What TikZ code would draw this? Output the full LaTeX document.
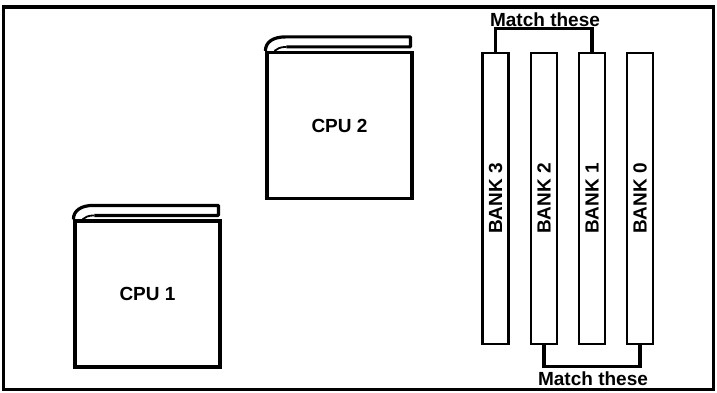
\documentclass[tikz,border=0pt]{standalone}
\usepackage{fontspec}
\setmainfont{Liberation Sans}
\tikzset{
  frame/.style={draw, line width=3.2pt},
  cpu/.style={draw, line width=3.2pt, minimum width=145pt, minimum height=146pt, inner sep=0pt,
    font=\fontsize{19}{21}\selectfont\bfseries},
  bank/.style={draw, line width=2.8pt, rotate=90, minimum width=291pt, minimum height=26pt, inner sep=0pt,
    font=\fontsize{19}{21}\selectfont\bfseries},
  lbl/.style={inner sep=0pt, font=\fontsize{19}{21}\selectfont\bfseries},
  link/.style={draw, line width=3.2pt},
  tab/.style={draw, line width=3.2pt, line join=round}
}
\newcommand{\cputab}[1]{%
  \begin{scope}[shift={(#1.north west)}]
    \draw[tab] (0,0) .. controls +(0,-9) and +(-12,0) .. (20,-14) -- (145,-14) -- (145,-4) -- (21,-4);
    \draw[line width=1.8pt] (21,-4) .. controls +(-7,0) and +(3,-2) .. (9,0);
  \end{scope}}
\begin{document}
\begin{tikzpicture}[x=1pt,y=-1pt]
\useasboundingbox (0,0) rectangle (717,393);
\draw[frame] (3.5,7) rectangle (713.5,389.5);

\node[cpu] (cpu1) at (147.5,294) {CPU 1};
\cputab{cpu1}
\node[cpu] (cpu2) at (339.5,125.5) {CPU 2};
\cputab{cpu2}

\node[bank] (b3) at (495.5,198.5) {BANK 3};
\node[bank] (b2) at (544,198.5) {BANK 2};
\node[bank] (b1) at (592,198.5) {BANK 1};
\node[bank] (b0) at (640,198.5) {BANK 0};

\node[lbl] (mtop) at (545,19.5) {Match these};
\node[lbl] (mbot) at (593,379) {Match these};
\draw[link] (b3.east) -- ++(0,-23) -| (b1.east);
\draw[link] (b2.west) -- ++(0,21) -| (b0.west);
\end{tikzpicture}
\end{document}
